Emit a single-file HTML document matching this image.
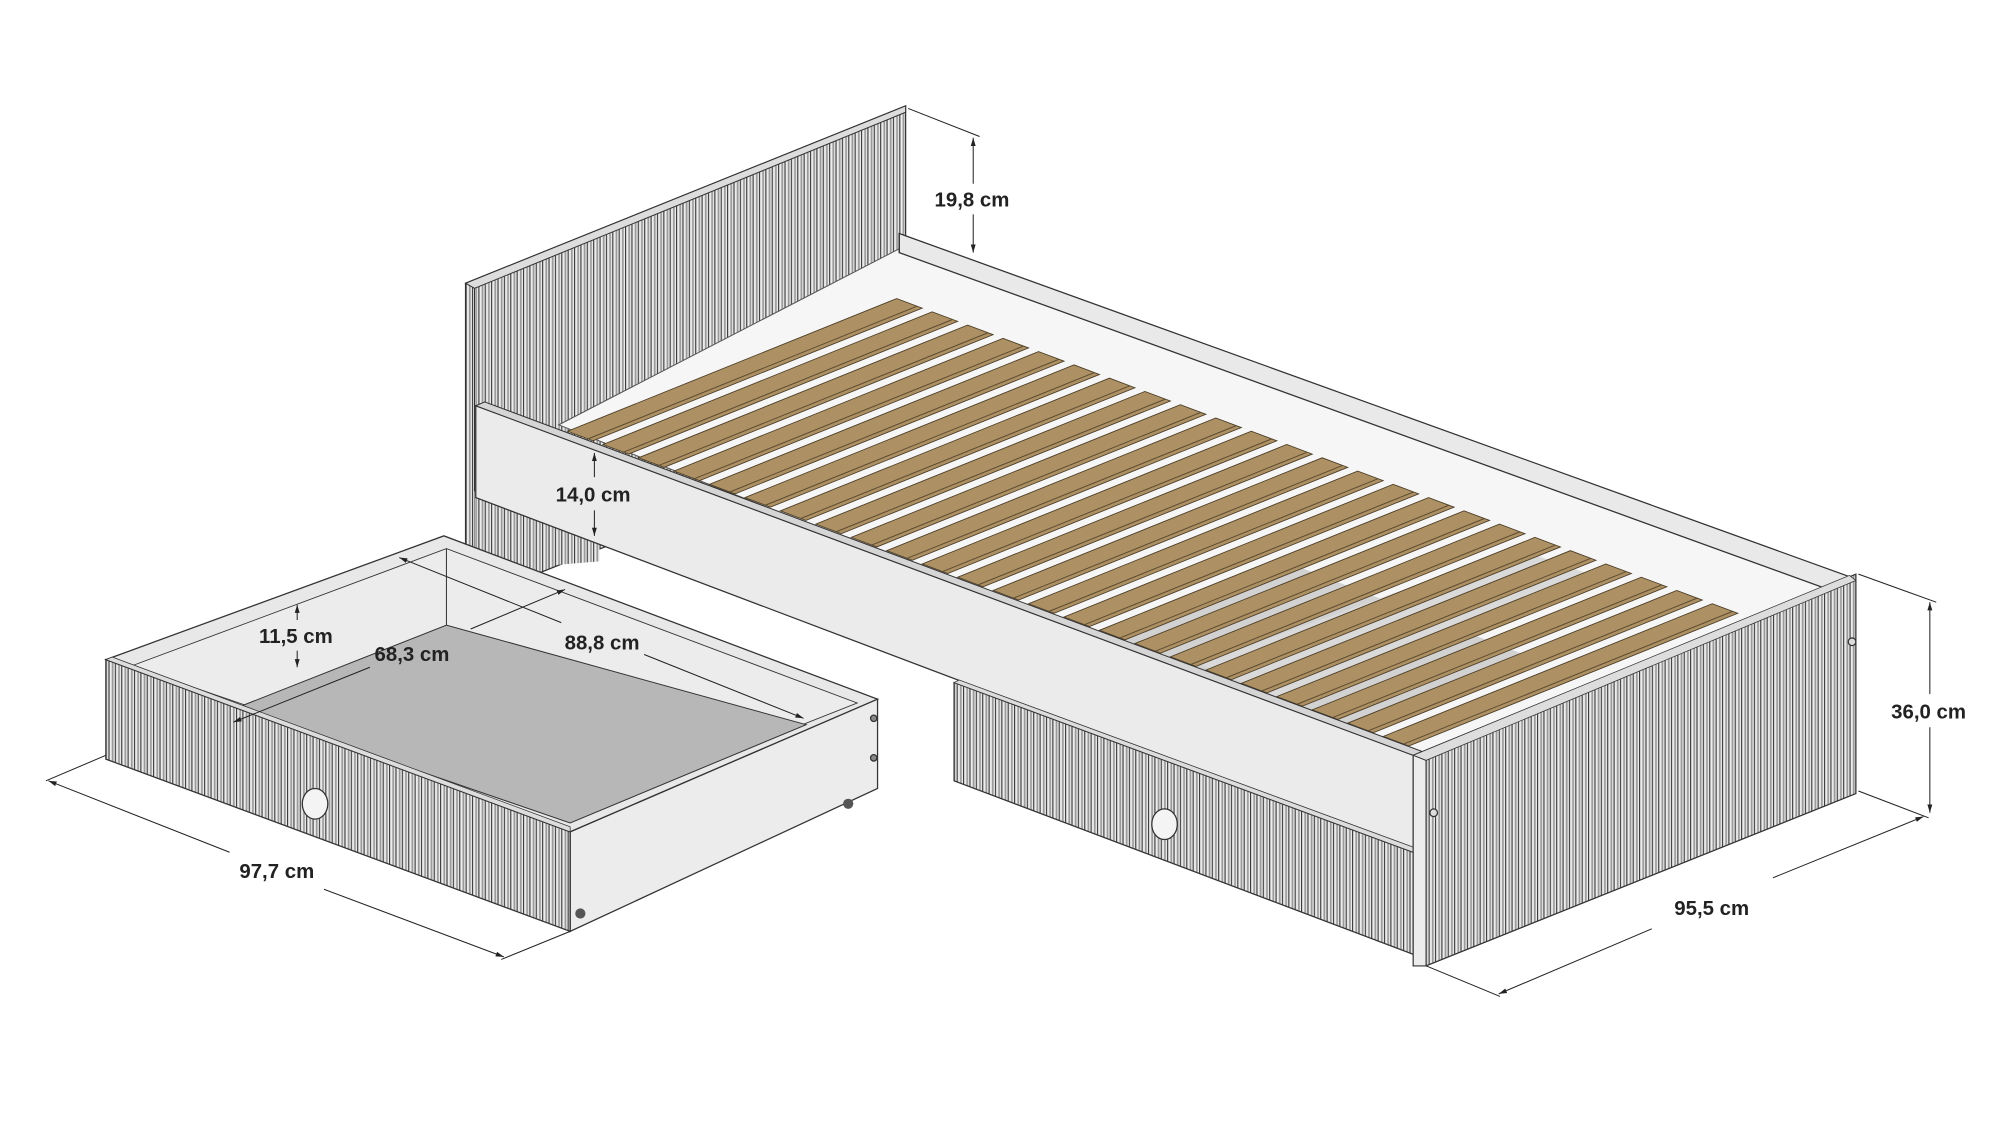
<!DOCTYPE html>
<html><head><meta charset="utf-8"><style>
html,body{margin:0;padding:0;background:#fff;}
svg{display:block}
text{font-family:"Liberation Sans",sans-serif;font-weight:bold;font-size:16px;fill:#222;text-anchor:middle}
</style></head><body>
<svg width="2000" height="1147" viewBox="0 0 1568 899" preserveAspectRatio="none" xmlns="http://www.w3.org/2000/svg">
<defs>
<pattern id="rib" patternUnits="userSpaceOnUse" width="5" height="10">
<rect width="5" height="10" fill="#ececec"/>
<rect x="0" width="0.9" height="10" fill="#3a3a3a"/>
<rect x="2.6" width="1.4" height="10" fill="#9a9a9a"/>
</pattern>
<g id="slat">
<polygon points="0,0 20,7.5 278,-96.5 258,-104" fill="#ad9164" stroke="#4e3f28" stroke-width="0.7"/>
<line x1="16" y1="6" x2="274" y2="-98" stroke="#5e4c30" stroke-width="0.8"/>
</g>
<marker id="ar" viewBox="0 0 10 10" refX="10" refY="5" markerWidth="8" markerHeight="8" orient="auto-start-reverse"><path d="M0,2 L10,5 L0,8 z" fill="#222"/></marker>
</defs>

<polygon points="365,222 710,83 710,335 365,472" fill="url(#rib)" stroke="#333" stroke-width="1"/>
<polygon points="365,222 710,83 710,88 372,226" fill="#ddd" stroke="#333" stroke-width="0.8"/>
<line x1="372" y1="226" x2="372" y2="470" stroke="#333" stroke-width="0.8"/>

<polygon points="438,333 705,195 1452,462 1108,598" fill="#f6f6f6" stroke="#555" stroke-width="0.8"/>
<polygon points="860,500 1020,445 1200,515 1040,585" fill="#d2d2d2"/>
<polygon points="940,520 1190,430 1260,455 1010,550" fill="#dadada"/>
<polygon points="705,183 1450,452 1450,468 705,198" fill="#e9e9e9" stroke="#333" stroke-width="1"/>
<line x1="705" y1="183" x2="705" y2="198" stroke="#333"/>

<g transform="translate(445,338)">
<use href="#slat"/>
<use href="#slat" transform="translate(27.8,10.4)"/>
<use href="#slat" transform="translate(55.6,20.8)"/>
<use href="#slat" transform="translate(83.4,31.2)"/>
<use href="#slat" transform="translate(111.2,41.6)"/>
<use href="#slat" transform="translate(139,52)"/>
<use href="#slat" transform="translate(166.8,62.4)"/>
<use href="#slat" transform="translate(194.6,72.8)"/>
<use href="#slat" transform="translate(222.4,83.2)"/>
<use href="#slat" transform="translate(250.2,93.6)"/>
<use href="#slat" transform="translate(278,104)"/>
<use href="#slat" transform="translate(305.8,114.4)"/>
<use href="#slat" transform="translate(333.6,124.8)"/>
<use href="#slat" transform="translate(361.4,135.2)"/>
<use href="#slat" transform="translate(389.2,145.6)"/>
<use href="#slat" transform="translate(417,156)"/>
<use href="#slat" transform="translate(444.8,166.4)"/>
<use href="#slat" transform="translate(472.6,176.8)"/>
<use href="#slat" transform="translate(500.4,187.2)"/>
<use href="#slat" transform="translate(528.2,197.6)"/>
<use href="#slat" transform="translate(556,208)"/>
<use href="#slat" transform="translate(583.8,218.4)"/>
<use href="#slat" transform="translate(611.6,228.8)"/>
<use href="#slat" transform="translate(639.4,239.2)"/>
</g>

<polygon points="372,385 470,421 470,440 372,448" fill="url(#rib)"/>

<polygon points="373,318 1108,592 1108,668 373,390" fill="#ebebeb" stroke="#333" stroke-width="1"/>
<polygon points="373,318 380,315 1115,589 1108,592" fill="#d5d5d5" stroke="#333" stroke-width="0.8"/>

<polygon points="748,535 1108,668 1108,748 748,612" fill="url(#rib)" stroke="#333" stroke-width="1"/>
<polygon points="748,535 752,533 1108,664 1108,668" fill="#ddd" stroke="#333" stroke-width="0.6"/>
<ellipse cx="913" cy="646" rx="10" ry="12" fill="#f4f4f4" stroke="#333"/>

<polygon points="1108,592 1455,450 1455,622 1118,757 1108,757" fill="url(#rib)" stroke="#333" stroke-width="1"/>
<polygon points="1108,592 1450,451 1455,455 1118,596" fill="#ddd" stroke="#333" stroke-width="0.6"/>
<polygon points="1108,592 1118,596 1118,757 1108,757" fill="#ececec" stroke="#333" stroke-width="0.8"/>
<circle cx="1124" cy="637" r="3" fill="#ddd" stroke="#333"/>
<circle cx="1452" cy="503" r="3" fill="#ddd" stroke="#333"/>

<polygon points="83,517 348,420 688,548 447,652" fill="#e8e8e8" stroke="#333" stroke-width="1"/>
<polygon points="103,522 350,430 672,551 447,640" fill="#ececec" stroke="#333" stroke-width="0.7"/>
<polygon points="185,555 350,490 632,568 447,645" fill="#b7b7b7" stroke="#333" stroke-width="0.8"/>
<line x1="350" y1="430" x2="350" y2="490" stroke="#333" stroke-width="0.8"/>
<polygon points="447,652 688,548 688,618 447,730" fill="#ececec" stroke="#333" stroke-width="1"/>
<polygon points="83,517 447,652 447,730 83,595" fill="url(#rib)" stroke="#333" stroke-width="1"/>
<polygon points="83,517 88,515 447,648 447,652" fill="#ddd" stroke="#333" stroke-width="0.6"/>
<ellipse cx="247" cy="630" rx="10" ry="12" fill="#f4f4f4" stroke="#333"/>
<circle cx="685" cy="563" r="2.5" fill="#888" stroke="#333"/>
<circle cx="685" cy="594" r="2.5" fill="#888" stroke="#333"/>
<circle cx="665" cy="630" r="4" fill="#555"/>
<circle cx="455" cy="716" r="4" fill="#555"/>

<g stroke="#222" stroke-width="0.8" fill="none">
<line x1="712" y1="85" x2="768" y2="107"/>
<line x1="763" y1="108" x2="763" y2="144" marker-start="url(#ar)"/>
<line x1="763" y1="168" x2="763" y2="198" marker-end="url(#ar)"/>
<line x1="466" y1="355" x2="466" y2="374" marker-start="url(#ar)"/>
<line x1="466" y1="400" x2="466" y2="420" marker-end="url(#ar)"/>
<line x1="233" y1="474" x2="233" y2="486" marker-start="url(#ar)"/>
<line x1="233" y1="510" x2="233" y2="523" marker-end="url(#ar)"/>
<line x1="443" y1="462" x2="369" y2="493" marker-start="url(#ar)"/>
<line x1="290" y1="523" x2="183" y2="566" marker-end="url(#ar)"/>
<line x1="313" y1="437" x2="440" y2="488" marker-start="url(#ar)"/>
<line x1="505" y1="513" x2="630" y2="563" marker-end="url(#ar)"/>
<line x1="83" y1="592" x2="36" y2="612"/>
<line x1="447" y1="730" x2="393" y2="752"/>
<line x1="38" y1="612" x2="180" y2="668" marker-start="url(#ar)"/>
<line x1="254" y1="697" x2="395" y2="750" marker-end="url(#ar)"/>
<line x1="1118" y1="757" x2="1176" y2="781"/>
<line x1="1457" y1="620" x2="1512" y2="641"/>
<line x1="1175" y1="779" x2="1295" y2="728" marker-start="url(#ar)"/>
<line x1="1390" y1="688" x2="1508" y2="640" marker-end="url(#ar)"/>
<line x1="1457" y1="450" x2="1518" y2="472"/>
<line x1="1513" y1="472" x2="1513" y2="544" marker-start="url(#ar)"/>
<line x1="1513" y1="570" x2="1513" y2="637" marker-end="url(#ar)"/>
</g>
<text x="762" y="162">19,8 cm</text>
<text x="465" y="393">14,0 cm</text>
<text x="232" y="504">11,5 cm</text>
<text x="323" y="518">68,3 cm</text>
<text x="472" y="509">88,8 cm</text>
<text x="217" y="688">97,7 cm</text>
<text x="1342" y="717">95,5 cm</text>
<text x="1512" y="563">36,0 cm</text>
</svg>
</body></html>
